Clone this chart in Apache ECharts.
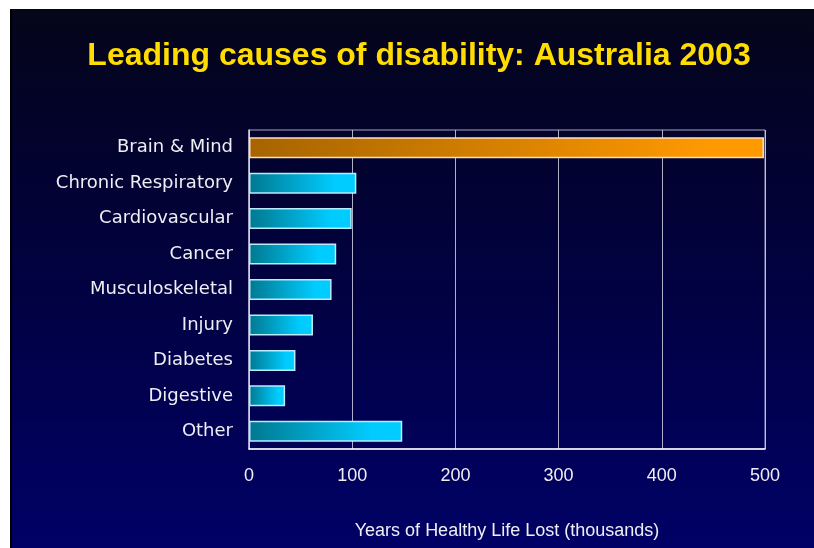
<!DOCTYPE html>
<html>
<head>
<meta charset="utf-8">
<script src="https://cdn.jsdelivr.net/npm/echarts@6/dist/echarts.min.js"></script>
<style>html,body{margin:0;padding:0;background:#fff;overflow:hidden;}#c{width:814px;height:548px;}</style>
</head>
<body>
<div id="c"></div>
<script>
var categories = ['Brain & Mind','Chronic Respiratory','Cardiovascular','Cancer','Musculoskeletal','Injury','Diabetes','Digestive','Other'];
var values = [499, 104, 99.5, 84.5, 80, 62, 45, 35, 148.5];
var xTicks = [0, 100, 200, 300, 400, 500];
var titleText = 'Leading causes of disability: Australia 2003';
var axisName = 'Years of Healthy Life Lost (thousands)';

var chart = echarts.init(document.getElementById('c'));
var cyan = new echarts.graphic.LinearGradient(0,0,1,0,[{offset:0,color:'#00788f'},{offset:0.8,color:'#00ccff'},{offset:1,color:'#00ccff'}]);
var orange = new echarts.graphic.LinearGradient(0,0,1,0,[{offset:0,color:'#a66400'},{offset:0.9,color:'#ff9900'},{offset:1,color:'#ff9900'}]);
var data = values.map(function(v,i){
  return {value:v, itemStyle: i===0 ? {color:orange, borderColor:'#ffe0b8'} : {color:cyan, borderColor:'#b8ecff'}};
});
chart.setOption({
  backgroundColor:'#ffffff',
  graphic:[
    {type:'rect', z:-10, silent:true, shape:{x:10,y:9,width:804,height:539},
     style:{fill:new echarts.graphic.LinearGradient(0,0,0,1,[{offset:0,color:'#05051a'},{offset:0.35,color:'#020235'},{offset:1,color:'#000066'}])}},
    {type:'rect', z:-9, silent:true, shape:{x:10,y:9,width:2,height:539}, style:{fill:'#000000'}}
  ],
  title:{text:titleText, left:414, top:35, textAlign:'center',
    textStyle:{color:'#ffdd00', fontSize:32, fontWeight:'bold', fontFamily:'Liberation Sans, Arial, sans-serif'}},
  grid:{left:249, top:130, width:516, height:319, show:true, borderColor:'rgba(220,220,235,0.75)', borderWidth:1},
  xAxis:{type:'value', min:0, max:500, interval:100,
    name:axisName, nameLocation:'middle', nameGap:73,
    nameTextStyle:{color:'#eeeef5', fontSize:18, fontFamily:'Liberation Sans, Arial, sans-serif'},
    axisLine:{show:true, lineStyle:{color:'#ffffff', width:1.5}},
    axisTick:{show:false},
    axisLabel:{color:'#eeeef5', fontSize:18, margin:18, fontFamily:'Liberation Sans, Arial, sans-serif',
      formatter:function(v){return xTicks.indexOf(v)>=0 ? String(v) : '';}},
    splitLine:{show:true, lineStyle:{color:'rgba(220,220,235,0.8)', width:1}}
  },
  yAxis:{type:'category', data:categories, inverse:true,
    axisLine:{show:true, lineStyle:{color:'rgba(220,220,235,0.8)', width:1.5}},
    axisTick:{show:false},
    axisLabel:{color:'#eeeef5', fontSize:18, margin:16, fontFamily:'DejaVu Sans, sans-serif'},
    splitLine:{show:false}
  },
  series:[{type:'bar', data:data, barWidth:21, itemStyle:{borderWidth:1.5}, animation:false}],
  animation:false
});
</script>
</body>
</html>
